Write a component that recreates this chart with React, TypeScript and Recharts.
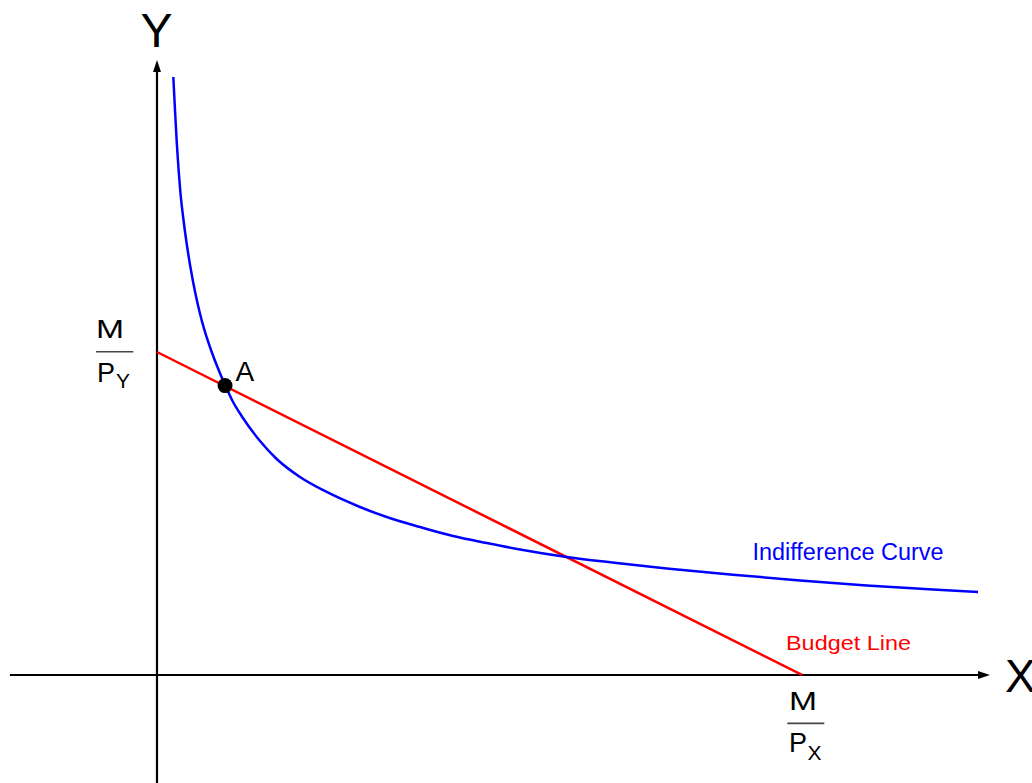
import { ComposedChart, Line, XAxis, YAxis, ReferenceLine, ReferenceDot } from 'recharts'

// indifference curve (x in units where M/Px = 10, y where M/Py = 5)
const curveX = [
  0.253, 0.279, 0.307, 0.335, 0.364, 0.411, 0.459, 0.526, 0.594, 0.664, 0.735, 0.837, 0.975,
  1.056, 1.163, 1.333, 1.597, 1.856, 2.217, 2.631, 3.147, 3.561, 4.078, 4.589, 5.112, 5.628,
  6.352, 7.127, 7.902, 8.93, 9.969, 11.003, 12.031, 12.729,
]
const curveY = [
  9.257, 8.746, 8.235, 7.817, 7.461, 7.043, 6.687, 6.269, 5.913, 5.604, 5.341, 5.031, 4.675,
  4.489, 4.257, 3.978, 3.622, 3.344, 3.065, 2.833, 2.601, 2.446, 2.291, 2.152, 2.043, 1.943,
  1.827, 1.734, 1.65, 1.553, 1.464, 1.387, 1.322, 1.286,
]

// budget line intercepts
const budgetX = [0, 10]
const budgetY = [5, 0]

// point A
const pointA = { x: 1.055, y: 4.48 }

const curveData = curveX.map((x, i) => ({ x, y: curveY[i] }))
const budgetData = budgetX.map((x, i) => ({ x, y: budgetY[i] }))

const FONT = '"Liberation Sans", Arial, sans-serif'

const arrowLine = (props: any) => {
  const { x1, y1, x2, y2 } = props
  const dx = x2 - x1
  const dy = y2 - y1
  const len = Math.sqrt(dx * dx + dy * dy)
  const ux = dx / len
  const uy = dy / len
  const head = 12
  const half = 4
  const bx = x2 - ux * head
  const by = y2 - uy * head
  const pts = `${x2},${y2} ${bx - uy * half},${by + ux * half} ${bx + uy * half},${by - ux * half}`
  return (
    <g>
      <line x1={x1} y1={y1} x2={bx} y2={by} stroke="#000" strokeWidth={2.2} />
      <polygon points={pts} fill="#000" />
    </g>
  )
}

export default function App() {
  return (
    <div style={{ position: 'relative', width: 1032, height: 783, background: '#fff' }}>
      <style>{'body{margin:0}'}</style>
      <ComposedChart width={1032} height={783} margin={{ top: 0, right: 0, bottom: 0, left: 0 }}>
        <XAxis dataKey="x" type="number" domain={[-2.434, 13.566]} hide allowDataOverflow />
        <YAxis dataKey="y" type="number" domain={[-1.672, 10.449]} hide allowDataOverflow />
        <ReferenceLine
          segment={[{ x: -2.28, y: 0 }, { x: 12.915, y: 0 }]}
          ifOverflow="visible"
          shape={arrowLine}
        />
        <ReferenceLine
          segment={[{ x: 0, y: -1.672 }, { x: 0, y: 9.52 }]}
          ifOverflow="visible"
          shape={arrowLine}
        />
        <Line
          data={budgetData}
          dataKey="y"
          type="linear"
          stroke="#ff0000"
          strokeWidth={2.5}
          dot={false}
          activeDot={false}
          isAnimationActive={false}
        />
        <Line
          data={curveData}
          dataKey="y"
          type="monotone"
          stroke="#0000ff"
          strokeWidth={2.5}
          dot={false}
          activeDot={false}
          isAnimationActive={false}
        />
        <ReferenceDot x={pointA.x} y={pointA.y} r={7.5} fill="#000" stroke="none" ifOverflow="visible" />
      </ComposedChart>
      <svg
        width={1032}
        height={783}
        style={{ position: 'absolute', left: 0, top: 0, pointerEvents: 'none' }}
        fontFamily={FONT}
      >
        <text x={156.5} y={47} fontSize={48} textAnchor="middle" fill="#000">Y</text>
        <text x={1005} y={692} fontSize={46} fill="#000">X</text>

        <text x={96} y={338} fontSize={25} fill="#000" textLength={28} lengthAdjust="spacingAndGlyphs">M</text>
        <line x1={96} y1={351.7} x2={133.3} y2={351.7} stroke="#444" strokeWidth={1.6} />
        <text x={97} y={381.7} fontSize={27} fill="#000">P</text>
        <text x={116} y={388} fontSize={21} fill="#000">Y</text>

        <text x={789} y={710} fontSize={25} fill="#000" textLength={28} lengthAdjust="spacingAndGlyphs">M</text>
        <line x1={787.3} y1={723.4} x2={824.3} y2={723.4} stroke="#444" strokeWidth={1.6} />
        <text x={789} y={751.7} fontSize={27} fill="#000">P</text>
        <text x={807.5} y={760} fontSize={21} fill="#000">X</text>

        <text x={235.5} y={381} fontSize={28} fill="#000">A</text>

        <text x={752.5} y={559.5} fontSize={23} fill="#0000ff" textLength={191} lengthAdjust="spacingAndGlyphs">
          Indifference Curve
        </text>
        <text x={786} y={650} fontSize={21} fill="#ff0000" textLength={125} lengthAdjust="spacingAndGlyphs">
          Budget Line
        </text>
      </svg>
    </div>
  )
}
